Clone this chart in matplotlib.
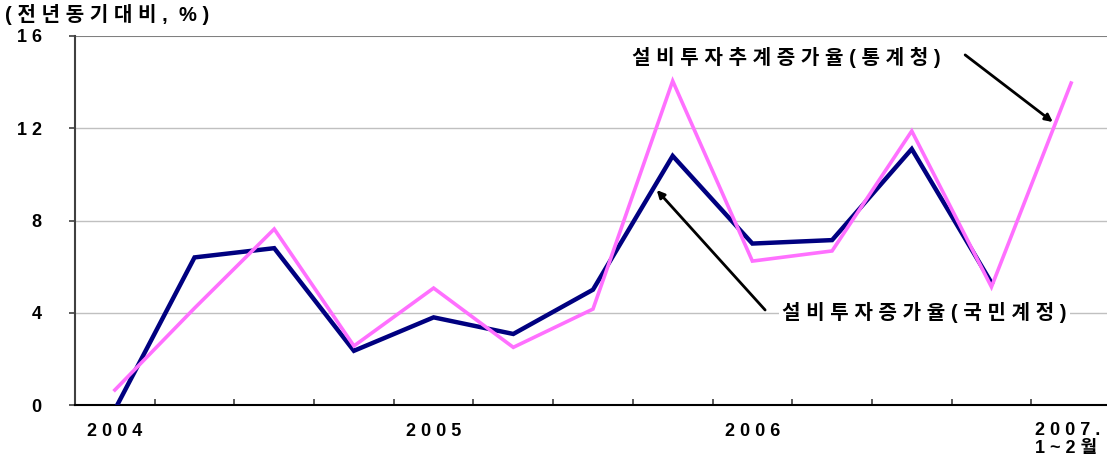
import matplotlib
matplotlib.use("Agg")
import matplotlib.pyplot as plt
import numpy as np

FONT = ['Liberation Sans', 'Noto Sans CJK KR', 'DejaVu Sans']
plt.rcParams['font.family'] = FONT
plt.rcParams['font.weight'] = 'bold'

# ---- data ----
quarters = ["2004Q1", "2004Q2", "2004Q3", "2004Q4",
            "2005Q1", "2005Q2", "2005Q3", "2005Q4",
            "2006Q1", "2006Q2", "2006Q3", "2006Q4", "2007.1~2"]
national_accounts = [-0.2, 6.4, 6.8, 2.35, 3.8, 3.08, 5.0, 10.8, 7.0, 7.15, 11.1, 5.3]
statistics_office = [0.65, 4.2, 7.63, 2.56, 5.07, 2.5, 4.16, 14.05, 6.24, 6.68, 11.88, 5.12, 13.96]
year_labels = ["2 0 0 4", "2 0 0 5", "2 0 0 6", "2 0 0 7 .\n1 ~ 2 월"]
year_label_idx = [0, 4, 8, 12]
y_ticks = [0, 4, 8, 12, 16]
y_tick_labels = ["0", "4", "8", "1 2", "1 6"]
label_stat = "설 비 투 자 추 계 증 가 율 ( 통 계 청 )"
label_nat = "설 비 투 자 증 가 율 ( 국 민 계 정 )"
unit_label = "( 전 년 동 기 대 비 ,  % )"

W, H = 1107, 459
fig = plt.figure(figsize=(W / 100, H / 100), dpi=100)
ax = fig.add_axes([75 / W, (H - 405) / H, (W - 75) / W, (405 - 36) / H])

xpos = np.arange(len(quarters)) + 0.5
ax.set_xlim(0, 12.95)
ax.set_ylim(0, 16)

for g in [4, 8, 12]:
    ax.axhline(g, color='#c0c0c0', lw=1, zorder=1)
ax.axhline(16, color='#808080', lw=1.5, zorder=1)

ax.plot(xpos[:len(national_accounts)], national_accounts, color='#000080', lw=3.2,
        zorder=3, solid_joinstyle='miter', clip_on=True)
ax.plot(xpos, statistics_office, color='#ff70ff', lw=2.6, zorder=4, solid_joinstyle='miter')

for s in ['top', 'right']:
    ax.spines[s].set_visible(False)
ax.spines['left'].set_color('#404040')
ax.spines['left'].set_linewidth(1.5)
ax.spines['bottom'].set_color('#000000')
ax.spines['bottom'].set_linewidth(1.5)

ax.set_yticks(y_ticks)
ax.set_yticklabels(y_tick_labels, fontsize=13, fontweight='bold')
ax.tick_params(axis='y', direction='out', length=4, width=1.2, color='#404040', pad=20)

ax.set_xticks(np.arange(1, 13))
ax.set_xticklabels([])
ax.tick_params(axis='x', direction='in', length=4, width=1.2, color='#404040')

for idx, lab in zip(year_label_idx, year_labels):
    if "\n" in lab:
        ax.text(xpos[idx] - 0.45, -0.75, lab, ha='left', va='top', fontsize=13,
                fontweight='bold', clip_on=False, linespacing=1.05)
    else:
        ax.text(xpos[idx], -1.17, lab, ha='center', va='center', fontsize=13,
                fontweight='bold', clip_on=False)

fig.text(5 / W, 1 - 4 / H, unit_label, ha='left', va='top', fontsize=14.5, fontweight='bold')

ax.text(8.93, 15.05, label_stat, ha='center', va='center', fontsize=14.5, fontweight='bold')
ax.annotate("", xy=(12.27, 12.27), xytext=(11.17, 15.18),
            arrowprops=dict(arrowstyle='-|>', color='black', lw=2, mutation_scale=11,
                            shrinkA=0, shrinkB=0), zorder=5)
ax.text(10.66, 3.99, label_nat, ha='center', va='center', fontsize=14.5, fontweight='bold',
        bbox=dict(facecolor='white', edgecolor='none', pad=2))
ax.annotate("", xy=(7.30, 9.32), xytext=(8.66, 4.12),
            arrowprops=dict(arrowstyle='-|>', color='black', lw=2, mutation_scale=11,
                            shrinkA=0, shrinkB=0), zorder=5)

fig.savefig("out.png", dpi=100)
